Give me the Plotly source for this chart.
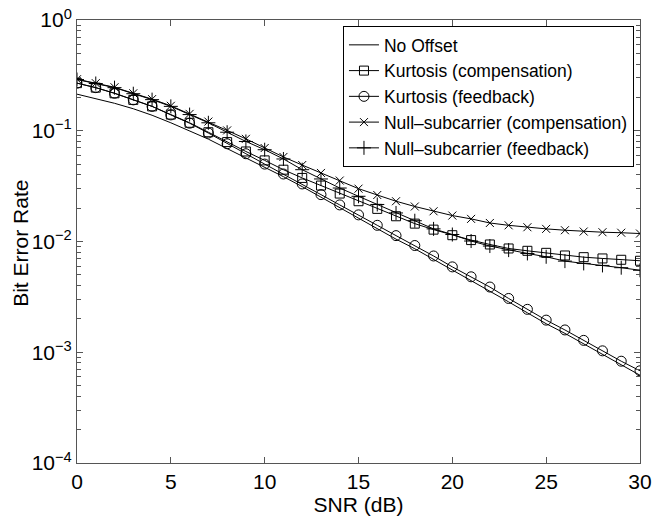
import plotly.graph_objects as go

snr = list(range(0, 31))

no_offset = [0.214, 0.196, 0.177, 0.158, 0.138, 0.118, 0.100, 0.084, 0.069, 0.057,
             0.047, 0.0385, 0.0313, 0.0252, 0.0201, 0.0162, 0.0130, 0.0105, 0.0086, 0.0069,
             0.0055, 0.00446, 0.0036, 0.00285, 0.00227, 0.00181, 0.00148, 0.00119, 0.00096, 0.00077,
             0.00062]

kurt_comp = [0.269, 0.245, 0.218, 0.190, 0.166, 0.140, 0.118, 0.097, 0.079, 0.065,
             0.054, 0.0445, 0.0375, 0.032, 0.0271, 0.0231, 0.0197, 0.0169, 0.0145, 0.0128,
             0.0114, 0.0103, 0.0094, 0.00865, 0.00824, 0.0079, 0.00748, 0.00722, 0.00703, 0.00684,
             0.0067]

kurt_fb = [0.269, 0.245, 0.218, 0.190, 0.166, 0.139, 0.117, 0.0953, 0.0763, 0.062,
           0.050, 0.0407, 0.0331, 0.0265, 0.0214, 0.0174, 0.0140, 0.0113, 0.0092, 0.0074,
           0.0059, 0.0048, 0.00388, 0.00306, 0.00244, 0.00195, 0.00159, 0.00128, 0.00103, 0.00083,
           0.00068]

null_comp = [0.292, 0.269, 0.247, 0.218, 0.193, 0.168, 0.142, 0.121, 0.1007, 0.0845,
             0.0698, 0.058, 0.049, 0.0416, 0.0355, 0.030, 0.0263, 0.0231, 0.0207, 0.01875,
             0.01715, 0.016, 0.0147, 0.0140, 0.01345, 0.0130, 0.01264, 0.0123, 0.01213, 0.0120,
             0.0118]

null_fb = [0.290, 0.267, 0.245, 0.216, 0.191, 0.166, 0.140, 0.118, 0.097, 0.080,
           0.0674, 0.0556, 0.0445, 0.0367, 0.0304, 0.0256, 0.0216, 0.0181, 0.0154, 0.0130,
           0.01156, 0.0101, 0.0091, 0.00836, 0.0078, 0.00728, 0.00665, 0.00634, 0.00608, 0.0058,
           0.0055]

names = ["No Offset", "Kurtosis (compensation)", "Kurtosis (feedback)",
         "Null\u2013subcarrier (compensation)", "Null\u2013subcarrier (feedback)"]

x_ticks = [0, 5, 10, 15, 20, 25, 30]
y_ticks = [1e-4, 1e-3, 1e-2, 1e-1, 1]
y_ticktext = ["10<sup>\u22124</sup>", "10<sup>\u22123</sup>", "10<sup>\u22122</sup>",
              "10<sup>\u22121</sup>", "10<sup>0</sup>"]

FONT = "Liberation Sans, Arial, Helvetica, sans-serif"

fig = go.Figure()

series = [no_offset, kurt_comp, kurt_fb, null_comp, null_fb]
symbols = [None, "square-open", "circle-open", "x-thin-open", "cross-thin-open"]
sizes = [0, 9, 10, 8, 10]

for vals, name, sym, sz in zip(series, names, symbols, sizes):
    if sym is None:
        fig.add_trace(go.Scatter(x=snr, y=vals, name=name, mode="lines",
                                 line=dict(color="black", width=1)))
    else:
        fig.add_trace(go.Scatter(x=snr, y=vals, name=name, mode="lines+markers",
                                 line=dict(color="black", width=1),
                                 marker=dict(symbol=sym, size=sz, color="black",
                                             line=dict(color="black", width=1))))

minor_vals = [m * 10 ** e for e in range(-4, 0) for m in range(2, 10)]

axis_color = "#555555"

fig.update_layout(
    width=652, height=518,
    margin=dict(l=77, r=12, t=20, b=55),
    paper_bgcolor="white", plot_bgcolor="white",
    font=dict(family=FONT, size=21, color="black"),
    showlegend=True,
    legend=dict(x=0.9893, y=0.9865, xanchor="right", yanchor="top",
                bgcolor="white", bordercolor="black", borderwidth=1,
                font=dict(family=FONT, size=17.5, color="black"),
                itemwidth=30, tracegroupgap=0),
    xaxis=dict(range=[0, 30], tickvals=x_ticks, ticks="inside", ticklen=6,
               tickcolor=axis_color, showline=True, linecolor=axis_color, linewidth=1,
               mirror="ticks", showgrid=False, zeroline=False, automargin=False,
               tickfont=dict(size=21),
               title=dict(text="SNR (dB)", font=dict(size=21), standoff=2)),
    yaxis=dict(type="log", range=[-4, 0], tickvals=y_ticks, ticktext=y_ticktext,
               ticks="inside", ticklen=6, tickcolor=axis_color,
               showline=True, linecolor=axis_color, linewidth=1, mirror="ticks",
               showgrid=False, zeroline=False, automargin=False, tickfont=dict(size=21),
               minor=dict(ticks="inside", ticklen=4, tickcolor=axis_color,
                          tickvals=minor_vals, showgrid=False)),
    annotations=[dict(text="Bit Error Rate", xref="paper", yref="paper",
                      x=-0.0995, y=0.497, xanchor="center", yanchor="middle",
                      textangle=-90, showarrow=False,
                      font=dict(family=FONT, size=21, color="black"))],
)

fig.write_html(
    "out.html",
    config={"displayModeBar": False},
    post_script="document.body.style.margin='0';document.body.style.padding='0';"
                "document.body.style.overflow='hidden';",
)
